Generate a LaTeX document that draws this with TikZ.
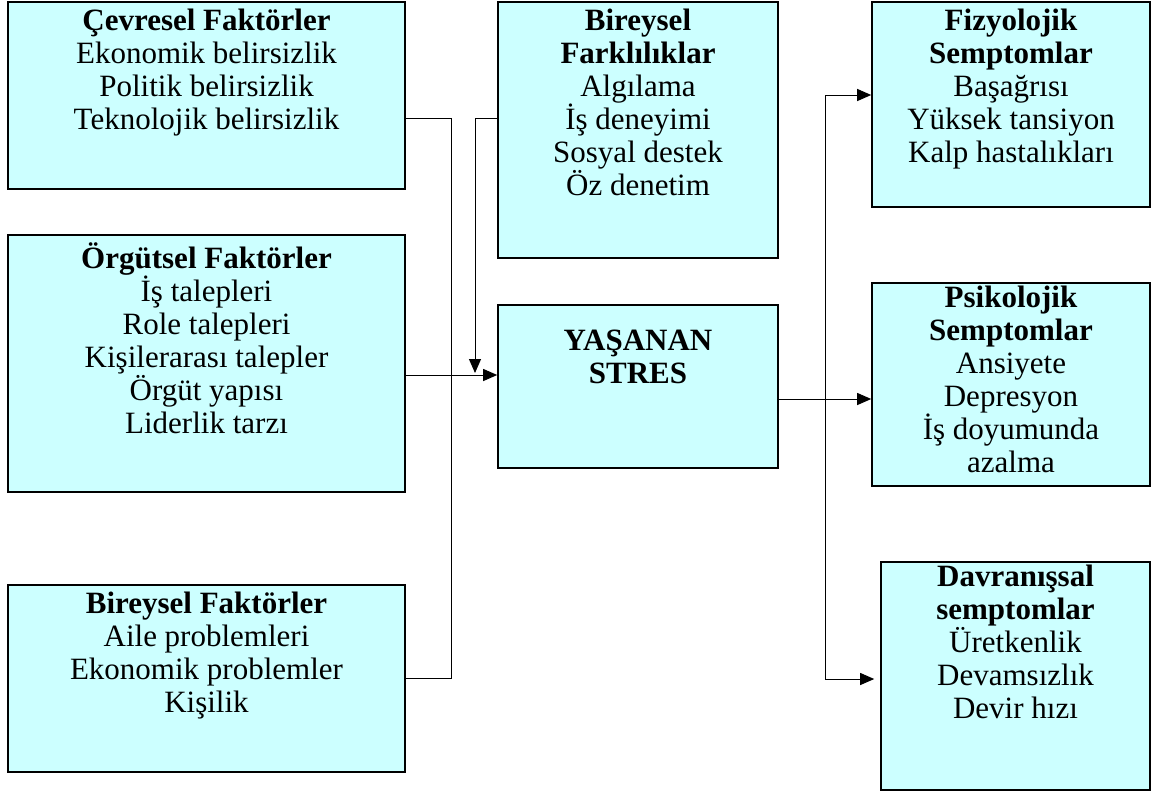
\documentclass[tikz,border=0pt]{standalone}
\usepackage{fontspec}
\setmainfont{Liberation Serif}
\usetikzlibrary{arrows.meta}
\definecolor{boxcyan}{HTML}{CCFFFF}
\begin{document}
\begin{tikzpicture}[x=1pt,y=-1pt,
        box/.style={draw,fill=boxcyan,line width=1.6pt,inner sep=0pt},
        txt/.style={anchor=north,align=center,inner sep=0pt,font=\fontsize{31}{33}\selectfont,execute at begin node=\strut},
        link/.style={line width=1pt},
        arr/.style={link,-{Triangle[length=14pt,width=12pt]}}]
    \useasboundingbox (0,0) rectangle (1156,798);
    % boxes
    \node[box,minimum width=397pt,minimum height=187pt] (cevresel)    at (206.5,95.5) {};
    \node[box,minimum width=397pt,minimum height=257pt] (orgutsel)    at (206.5,363.5) {};
    \node[box,minimum width=397pt,minimum height=187pt] (bireysel)    at (206.5,678.5) {};
    \node[box,minimum width=280pt,minimum height=256pt] (farklilik)   at (638,130) {};
    \node[box,minimum width=280pt,minimum height=163pt] (stres)       at (638,386.5) {};
    \node[box,minimum width=278pt,minimum height=205pt] (fizyolojik)  at (1011,104.5) {};
    \node[box,minimum width=278pt,minimum height=203pt] (psikolojik)  at (1011,384.5) {};
    \node[box,minimum width=269pt,minimum height=228pt] (davranissal) at (1015.5,676) {};
    % texts
    \node[txt] (cevreselT) at ([yshift=-8pt]cevresel.north)
        {\textbf{Çevresel Faktörler}\\Ekonomik belirsizlik\\Politik belirsizlik\\Teknolojik belirsizlik};
    \node[txt] (orgutselT) at ([yshift=-8pt]orgutsel.north)
        {\textbf{Örgütsel Faktörler}\\İş talepleri\\Role talepleri\\Kişilerarası talepler\\Örgüt yapısı\\Liderlik tarzı};
    \node[txt] (bireyselT) at ([yshift=-8pt]bireysel.north)
        {\textbf{Bireysel Faktörler}\\Aile problemleri\\Ekonomik problemler\\Kişilik};
    \node[txt] (farklilikT) at ([yshift=-8pt]farklilik.north)
        {\textbf{Bireysel}\\\textbf{Farklılıklar}\\Algılama\\İş deneyimi\\Sosyal destek\\Öz denetim};
    \node[txt] (stresT) at ([yshift=-26pt]stres.north)
        {\textbf{YAŞANAN}\\\textbf{STRES}};
    \node[txt] (fizyolojikT) at ([yshift=-8pt]fizyolojik.north)
        {\textbf{Fizyolojik}\\\textbf{Semptomlar}\\Başağrısı\\Yüksek tansiyon\\Kalp hastalıkları};
    \node[txt] (psikolojikT) at ([yshift=-4pt]psikolojik.north)
        {\textbf{Psikolojik}\\\textbf{Semptomlar}\\Ansiyete\\Depresyon\\İş doyumunda\\azalma};
    \node[txt] (davranissalT) at ([yshift=-4pt]davranissal.north)
        {\textbf{Davranışsal}\\\textbf{semptomlar}\\Üretkenlik\\Devamsızlık\\Devir hızı};
    % bend points
    \coordinate (busL) at (451,375);
    \coordinate (dropL) at (475,118);
    \coordinate (busR) at (825,399);
    % connectors
    \draw[link] (cevresel.east |- dropL) -- (busL |- dropL) -- (busL |- bireysel.east) -- (bireysel.east);
    \draw[arr] (orgutsel.east |- busL) -- (stres.west |- busL);
    \draw[arr] (farklilik.west |- dropL) -- (dropL) -- ([yshift=2pt]dropL |- busL);
    \draw[arr] (stres.east |- busR) -- (psikolojik.west |- busR);
    \draw[arr] (busR) -- (busR |- 0,95) -- (fizyolojik.west |- 0,95);
    \draw[arr,shorten >=6pt] (busR) -- (busR |- 0,679) -- (davranissal.west |- 0,679);
\end{tikzpicture}
\end{document}
